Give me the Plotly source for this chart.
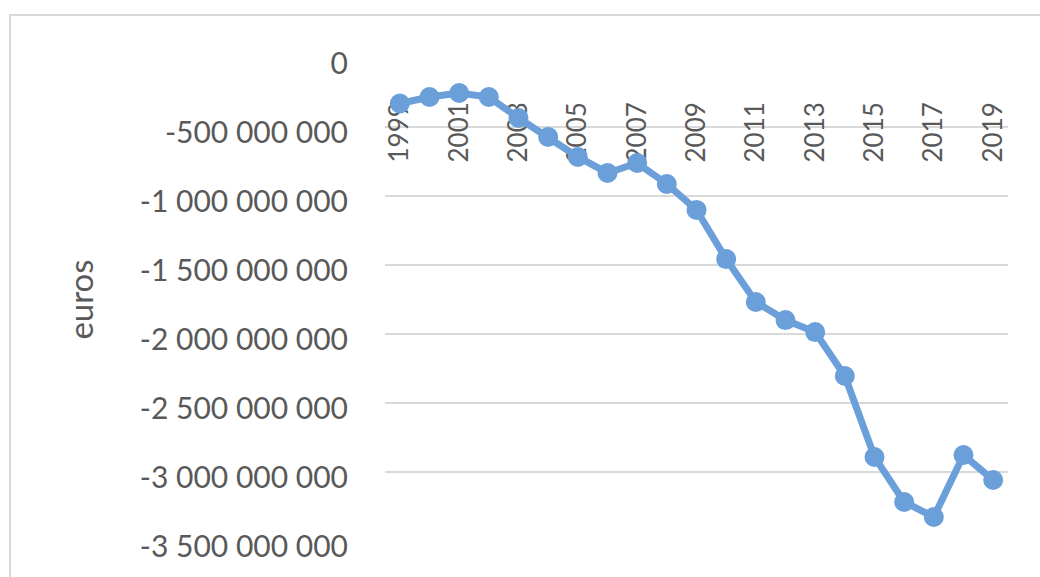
import plotly.graph_objects as go

years = list(range(1999, 2020))
values = [-330e6, -283e6, -254e6, -283e6, -435e6, -572e6, -717e6, -833e6, -761e6,
          -913e6, -1101e6, -1457e6, -1768e6, -1899e6, -1986e6, -2304e6, -2891e6,
          -3217e6, -3326e6, -2877e6, -3058e6]

x_tick_years = list(range(1999, 2020, 2))
y_tick_vals = [0, -500_000_000, -1_000_000_000, -1_500_000_000, -2_000_000_000,
               -2_500_000_000, -3_000_000_000, -3_500_000_000]
y_tick_text = [f"{v:,}".replace(",", " ") for v in y_tick_vals]

W, H = 1040, 577
L, R, T, B = 385, 32, 58, 36
pw, ph = W - L - R, H - T - B

line_color = "#6b9fd9"
font_fam = "Lato, 'Open Sans', sans-serif"

fig = go.Figure()
fig.add_trace(go.Scatter(
    x=years, y=values, mode="lines+markers",
    line=dict(color=line_color, width=7),
    marker=dict(color=line_color, size=20),
    showlegend=False,
))

def px_x(p):
    return (p - L) / pw

def px_y(p):
    return (H - B - p) / ph

fig.add_shape(type="rect", xref="paper", yref="paper",
              x0=px_x(10), x1=px_x(W + 200), y0=px_y(H + 200), y1=px_y(15),
              line=dict(color="#d9d9d9", width=2), fillcolor="rgba(0,0,0,0)",
              layer="below")

fig.update_layout(
    width=W, height=H,
    margin=dict(l=L, r=R, t=T, b=B, pad=0),
    paper_bgcolor="white", plot_bgcolor="white",
    font=dict(family=font_fam, color="#595959"),
    xaxis=dict(
        range=[1998.5, 2019.5],
        tickmode="array", tickvals=x_tick_years,
        ticktext=[str(y) for y in x_tick_years],
        tickangle=-90,
        tickfont=dict(size=26, color="#595959"),
        showgrid=False, zeroline=False, showline=False,
        ticks="", anchor="free", position=1, side="bottom",
        ticklabelstandoff=38, layer="below traces",
    ),
    yaxis=dict(
        range=[-3_500_000_000, 0],
        tickmode="array", tickvals=y_tick_vals, ticktext=y_tick_text,
        tickfont=dict(size=30, color="#595959"),
        showgrid=True, gridcolor="#d9d9d9", gridwidth=2,
        zeroline=False, showline=False, ticks="",
        ticklabelstandoff=36, ticklabelshift=5,
        title=dict(text="euros", font=dict(size=33, color="#595959"), standoff=36),
    ),
)

fig.write_html("out.html")
